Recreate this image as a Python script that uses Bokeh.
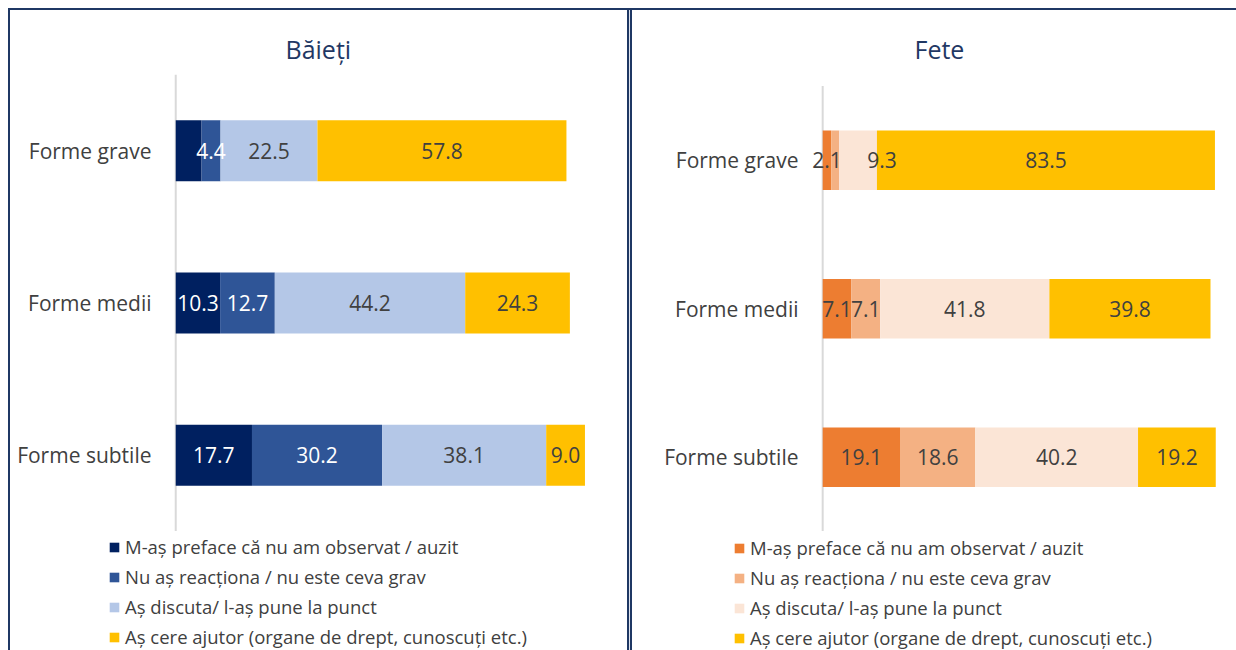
from bokeh.plotting import figure
from bokeh.models import (Range1d, Legend, LegendItem, ColumnDataSource, Div,
                          FixedTicker)
from bokeh.layouts import row, column
from bokeh.embed import file_html
from bokeh.resources import INLINE
from bokeh.core.properties import value

# ---------------- data ----------------
categories = ["Forme grave", "Forme medii", "Forme subtile"]
series_names = [
    "M-aș preface că nu am observat / auzit",
    "Nu aș reacționa / nu este ceva grav",
    "Aș discuta/ l-aș pune la punct",
    "Aș cere ajutor (organe de drept, cunoscuți etc.)",
]

baieti_pretend = [6.0, 10.3, 17.7]
baieti_noreact = [4.4, 12.7, 30.2]
baieti_discuss = [22.5, 44.2, 38.1]
baieti_help = [57.8, 24.3, 9.0]
baieti_pretend_labelled = [False, True, True]

fete_pretend = [2.1, 7.1, 19.1]
fete_noreact = [2.0, 7.1, 18.6]
fete_discuss = [9.3, 41.8, 40.2]
fete_help = [83.5, 39.8, 19.2]
fete_noreact_labelled = [False, True, True]

# ---------------- styles ----------------
FONT = "Open Sans"
NAVY = "#1F3864"
TEXT = "#404040"
baieti_colors = ["#002060", "#2F5597", "#B4C7E7", "#FFC000"]
baieti_label_colors = ["white", "white", TEXT, TEXT]
fete_colors = ["#ED7D31", "#F4B183", "#FBE5D6", "#FFC000"]
fete_label_colors = [TEXT, TEXT, TEXT, TEXT]
# manual label nudges (series index, category index) -> px
fete_label_nudge = {(2, 0): 24}

FRAME_H = 457
TOP = 64
LEG_H = 119


def no_align(fig):
    if "frame_align" in fig.properties():
        fig.frame_align = False


def make_panel(title, series, hide_series, hide_flags, colors, label_colors,
               frame_w, mb_left, mb_right, y_end, title_offset,
               label_standoff, nudge):
    n = len(categories)
    ypos = [n - 0.5 - i for i in range(n)]
    p = figure(y_range=Range1d(0, y_end), x_range=Range1d(-4, 100),
               frame_width=frame_w, frame_height=FRAME_H,
               min_border_left=mb_left, min_border_right=mb_right,
               min_border_top=TOP, min_border_bottom=0,
               output_backend="svg", toolbar_location=None,
               title=title)
    no_align(p)
    p.title.text_font = FONT
    p.title.text_font_size = "25px"
    p.title.text_font_style = "normal"
    p.title.text_color = NAVY
    p.title.align = "left"
    p.title.offset = title_offset
    p.title.standoff = 18
    p.outline_line_color = None
    p.xgrid.visible = False
    p.ygrid.visible = False
    p.xaxis.visible = False
    ax = p.yaxis[0]
    ax.ticker = FixedTicker(ticks=ypos)
    ax.major_label_overrides = {y: c for y, c in zip(ypos, categories)}
    ax.axis_line_color = None
    ax.major_tick_line_color = None
    ax.minor_tick_line_color = None
    ax.major_tick_out = 0
    ax.major_tick_in = 0
    ax.major_label_standoff = label_standoff
    ax.major_label_text_font = FONT
    ax.major_label_text_font_size = "21px"
    ax.major_label_text_color = TEXT

    # category axis baseline (x = 0, along the category extent)
    p.segment(x0=[0], y0=[0], x1=[0], y1=[n], line_color="#D9D9D9",
              line_width=2)

    left = [0.0] * n
    label_layers = []
    for k, vals in enumerate(series):
        right = [a + b for a, b in zip(left, vals)]
        src = ColumnDataSource(dict(y=ypos, left=left, right=right))
        p.hbar(y="y", left="left", right="right", height=0.4, source=src,
               fill_color=colors[k], line_color=None)
        texts = []
        for i, v in enumerate(vals):
            ok = hide_flags[i] if k == hide_series else True
            texts.append(f"{v:.1f}" if ok else "")
        label_layers.append((dict(y=ypos,
                                  x=[(a + b) / 2 for a, b in zip(left, right)],
                                  t=texts,
                                  dx=[nudge.get((k, i), 0) for i in range(n)]),
                             label_colors[k]))
        left = right

    for data, col in label_layers:
        p.text(x="x", y="y", text="t", x_offset="dx",
               source=ColumnDataSource(data),
               text_align="center", text_baseline="middle", text_color=col,
               text_font=value(FONT), text_font_size="21px")
    return p


def make_legend(colors, width, dx, dy):
    q = figure(width=width, height=LEG_H, x_range=Range1d(0, 1),
               y_range=Range1d(0, 1), min_border=0, min_border_left=0,
               min_border_right=0, min_border_top=0, min_border_bottom=0,
               x_axis_location=None, y_axis_location=None,
               output_backend="svg", toolbar_location=None)
    no_align(q)
    q.outline_line_color = None
    q.grid.visible = False
    items = []
    for k, name in enumerate(series_names):
        # legend swatch source kept outside the visible range
        r = q.hbar(y=[-5], left=[0], right=[1], height=0.4,
                   fill_color=colors[k], line_color=None)
        items.append(LegendItem(label=name, renderers=[r]))
    leg = Legend(items=items, location=(dx, dy), orientation="vertical",
                 glyph_width=12, glyph_height=12, label_height=25, spacing=5,
                 padding=0, margin=0, label_standoff=5,
                 border_line_color=None, background_fill_alpha=0,
                 label_text_font=FONT, label_text_font_size="18.5px",
                 label_text_color=TEXT)
    q.add_layout(leg)
    return q


LEFT_W = 617
RIGHT_W = 604

left_p = make_panel("Băieți",
                    [baieti_pretend, baieti_noreact, baieti_discuss, baieti_help],
                    0, baieti_pretend_labelled,
                    baieti_colors, baieti_label_colors,
                    frame_w=448, mb_left=148, mb_right=21, y_end=3.0,
                    title_offset=127, label_standoff=7, nudge={})
left_leg = make_legend(baieti_colors, LEFT_W, 98, 1)

right_p = make_panel("Fete",
                     [fete_pretend, fete_noreact, fete_discuss, fete_help],
                     1, fete_noreact_labelled,
                     fete_colors, fete_label_colors,
                     frame_w=421, mb_left=174, mb_right=9, y_end=3.077,
                     title_offset=108, label_standoff=8,
                     nudge=fete_label_nudge)
right_leg = make_legend(fete_colors, RIGHT_W, 101, 0)

top_line = Div(text="", width=1228, height=2, margin=0,
               styles={"background-color": NAVY})
left_line = Div(text="", width=2, height=640, margin=0,
                styles={"background-color": NAVY})
divider = Div(text="", width=5, height=640, margin=0,
              styles={"background": f"linear-gradient(to right, {NAVY} 0px, {NAVY} 2px, #dfe4ee 2px, #dfe4ee 3px, {NAVY} 3px, {NAVY} 5px)"})

layout = column(top_line,
                row(left_line, column(left_p, left_leg, spacing=0), divider,
                    column(right_p, right_leg, spacing=0), spacing=0),
                spacing=0, margin=(8, 0, 0, 8))
open("out.html", "w").write(file_html(layout, INLINE))
